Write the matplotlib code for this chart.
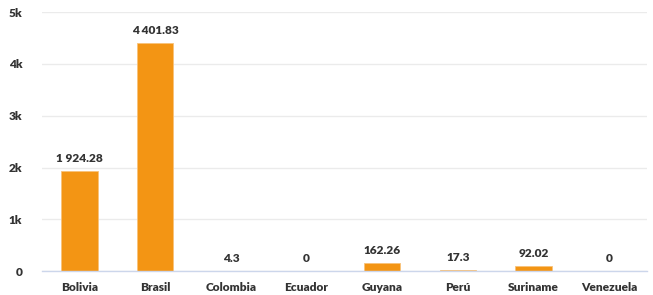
import matplotlib.pyplot as plt
from matplotlib.ticker import FuncFormatter

# datos
paises = ["Bolivia", "Brasil", "Colombia", "Ecuador", "Guyana", "Perú", "Suriname", "Venezuela"]
valores = [1924.28, 4401.83, 4.3, 0, 162.26, 17.3, 92.02, 0]
etiquetas = ["1 924.28", "4 401.83", "4.3", "0", "162.26", "17.3", "92.02", "0"]
y_ticks = [0, 1000, 2000, 3000, 4000, 5000]

naranja = "#f39514"
texto = "#333333"

plt.rcParams['font.family'] = ['Lato', 'DejaVu Sans']

fig = plt.figure(figsize=(6.53, 2.95), dpi=100)
ax = fig.add_axes([0.064, 0.081, 0.927, 0.878])

x = list(range(len(paises)))
bars = ax.bar(x, valores, width=0.48, color=naranja, edgecolor="#f8c27a", linewidth=0.6, zorder=3)

for xi, v, lab in zip(x, valores, etiquetas):
    ax.annotate(lab, (xi, v), xytext=(0, 5), textcoords="offset points",
                ha="center", va="bottom", fontsize=8.6, fontweight="heavy", color=texto)

ax.set_xlim(-0.5, len(paises) - 0.5)
ax.set_ylim(0, 5000)
ax.set_yticks(y_ticks)
ax.yaxis.set_major_formatter(FuncFormatter(lambda v, p: "0" if v == 0 else f"{int(v/1000)}k"))
ax.set_xticks(x)
ax.set_xticklabels(paises)

ax.grid(axis="y", color="#ebebeb", linewidth=1, zorder=0)
for s in ["top", "right", "left"]:
    ax.spines[s].set_visible(False)
ax.spines["bottom"].set_color("#ccd6eb")
ax.spines["bottom"].set_linewidth(1)
ax.spines["bottom"].set_zorder(4)

ax.tick_params(axis="both", length=0, labelsize=8.6, labelcolor=texto)
ax.tick_params(axis="y", pad=14)
ax.tick_params(axis="x", pad=8)
for t in ax.get_xticklabels() + ax.get_yticklabels():
    t.set_fontweight("heavy")

fig.savefig("out.png", dpi=100)
